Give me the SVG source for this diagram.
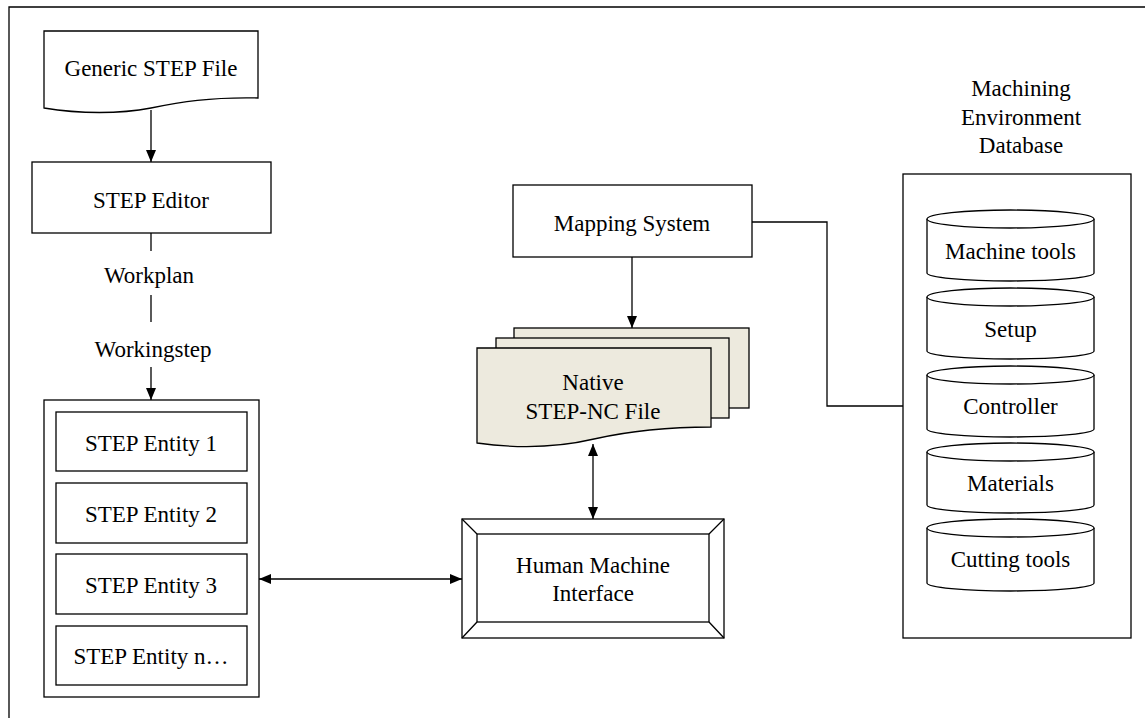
<svg xmlns="http://www.w3.org/2000/svg" width="1145" height="718" viewBox="0 0 1145 718">
<style>
.s{fill:#fff;stroke:#000;stroke-width:1.3}
.f{fill:#edeade;stroke:#000;stroke-width:1.3}
.l{fill:none;stroke:#000;stroke-width:1.3}
text{font-family:"Liberation Serif","Times New Roman",serif;font-size:23px;fill:#000;text-anchor:middle}
</style>
<defs>
<marker id="ah" markerUnits="userSpaceOnUse" markerWidth="12" markerHeight="10" refX="12" refY="5" orient="auto-start-reverse" viewBox="0 0 12 10">
<path d="M0,0 L12,5 L0,10 Z" fill="#000"/>
</marker>
</defs>
<rect x="0" y="0" width="1145" height="718" fill="#fff"/>
<path class="l" d="M9,720 V7 H1146"/>

<g id="generic-step-file">
<path class="s" d="M44,31 H258 V98 C210,97 180,102 151,108 C120,114 80,114 44,108 Z"/>
<text x="151" y="76">Generic STEP File</text>
</g>
<g id="step-editor">
<rect class="s" x="32" y="162" width="239" height="71"/>
<text x="151" y="208">STEP Editor</text>
</g>
<g id="workplan-label"><text x="149" y="283">Workplan</text></g>
<g id="workingstep-label"><text x="153" y="357">Workingstep</text></g>

<g id="entities">
<rect class="s" x="44" y="400" width="215" height="297"/>
<rect class="s" x="56" y="412" width="191" height="59"/>
<text x="151" y="451">STEP Entity 1</text>
<rect class="s" x="56" y="483" width="191" height="60"/>
<text x="151" y="522">STEP Entity 2</text>
<rect class="s" x="56" y="554" width="191" height="60"/>
<text x="151" y="593">STEP Entity 3</text>
<rect class="s" x="56" y="626" width="191" height="59"/>
<text x="151" y="664">STEP Entity n…</text>
</g>

<g id="mapping-system">
<rect class="s" x="513" y="185" width="239" height="72"/>
<text x="632" y="231">Mapping System</text>
</g>

<g id="native-step-nc-file">
<rect class="f" x="514" y="328" width="235" height="80"/>
<rect class="f" x="496" y="338" width="233" height="80"/>
<path class="f" d="M477,348 H711 V427 C660,427 625,432 594,439 C560,447 520,449 477,443 Z"/>
<text x="593" y="390">Native</text>
<text x="593" y="419">STEP-NC File</text>
</g>

<g id="hmi">
<rect class="s" x="462" y="519" width="262" height="119"/>
<rect class="s" x="477" y="534" width="232" height="88"/>
<path class="l" d="M462,519 L477,534 M724,519 L709,534 M462,638 L477,622 M724,638 L709,622"/>
<text x="593" y="573">Human Machine</text>
<text x="593" y="601">Interface</text>
</g>

<g id="database">
<text x="1021" y="96">Machining</text>
<text x="1021" y="124.5">Environment</text>
<text x="1021" y="153">Database</text>
<rect class="s" x="903" y="174" width="228" height="464"/>
<g id="cyl-machine-tools">
<path class="s" d="M927,219 V273 A83.5,8 0 0 0 1094,273 V219"/>
<ellipse class="s" cx="1010.5" cy="219" rx="83.5" ry="9"/>
<text x="1010.5" y="259">Machine tools</text>
</g>
<g id="cyl-setup">
<path class="s" d="M927,297 V351 A83.5,8 0 0 0 1094,351 V297"/>
<ellipse class="s" cx="1010.5" cy="297" rx="83.5" ry="9"/>
<text x="1010.5" y="337">Setup</text>
</g>
<g id="cyl-controller">
<path class="s" d="M927,375 V429 A83.5,8 0 0 0 1094,429 V375"/>
<ellipse class="s" cx="1010.5" cy="375" rx="83.5" ry="9"/>
<text x="1010.5" y="414">Controller</text>
</g>
<g id="cyl-materials">
<path class="s" d="M927,452 V505 A83.5,8 0 0 0 1094,505 V452"/>
<ellipse class="s" cx="1010.5" cy="452" rx="83.5" ry="9"/>
<text x="1010.5" y="491">Materials</text>
</g>
<g id="cyl-cutting-tools">
<path class="s" d="M927,528 V583 A83.5,8 0 0 0 1094,583 V528"/>
<ellipse class="s" cx="1010.5" cy="528" rx="83.5" ry="9"/>
<text x="1010.5" y="567">Cutting tools</text>
</g>
</g>

<g id="connectors">
<line class="l" x1="151" y1="110" x2="151" y2="162" marker-end="url(#ah)"/>
<line class="l" x1="151" y1="233" x2="151" y2="251"/>
<line class="l" x1="151" y1="295" x2="151" y2="322"/>
<line class="l" x1="151" y1="367" x2="151" y2="400" marker-end="url(#ah)"/>
<line class="l" x1="632" y1="257" x2="632" y2="328" marker-end="url(#ah)"/>
<line class="l" x1="593" y1="444" x2="593" y2="519" marker-start="url(#ah)" marker-end="url(#ah)"/>
<line class="l" x1="259" y1="579" x2="462" y2="579" marker-start="url(#ah)" marker-end="url(#ah)"/>
<polyline class="l" points="752,222 827,222 827,406 903,406"/>
</g>
</svg>
